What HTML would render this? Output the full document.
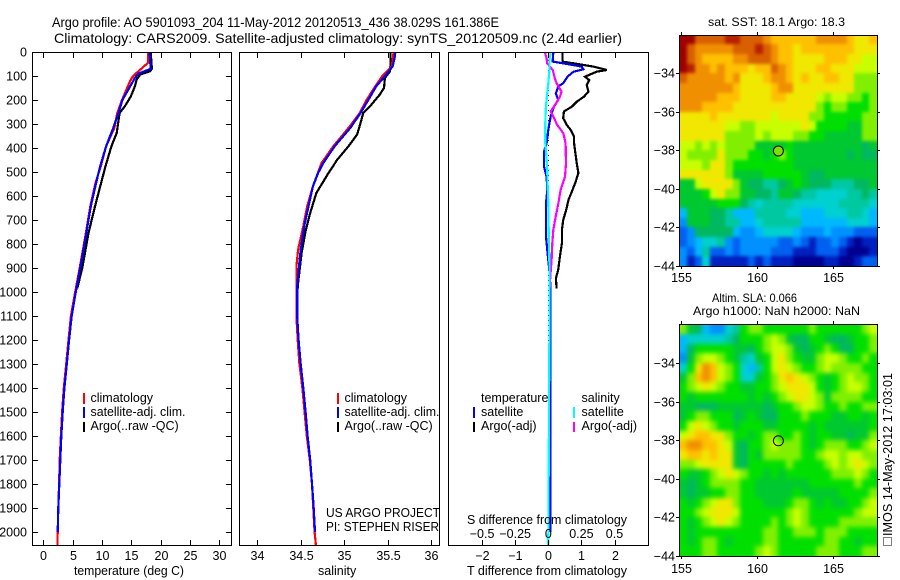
<!DOCTYPE html>
<html>
<head>
<meta charset="utf-8">
<style>
html,body{margin:0;padding:0;background:#fff;}
svg{display:block;}
text{font-family:"Liberation Sans",sans-serif;font-size:12.5px;fill:#000;}
.title{font-size:14px;}
.small{font-size:12px;}
</style>
</head>
<body>
<svg id="chart" xmlns="http://www.w3.org/2000/svg" width="900" height="580" viewBox="0 0 900 580">
<defs>
<filter id="sst-blur" filterUnits="userSpaceOnUse" x="0" y="0" width="900" height="580" color-interpolation-filters="sRGB"><feGaussianBlur stdDeviation="1.6"/></filter>
<filter id="sla-blur" filterUnits="userSpaceOnUse" x="0" y="0" width="900" height="580" color-interpolation-filters="sRGB"><feGaussianBlur stdDeviation="2.4"/></filter>
<clipPath id="sst-clip"><rect x="679" y="35" width="199" height="232"/></clipPath>
<clipPath id="sla-clip"><rect x="679" y="325" width="199" height="232"/></clipPath>
</defs>
<rect x="0" y="0" width="900" height="580" fill="#fff"/>
<text class="title" x="52" y="27" textLength="447" lengthAdjust="spacingAndGlyphs">Argo profile: AO 5901093_204 11-May-2012 20120513_436 38.029S 161.386E</text>
<text class="title" x="54" y="43" textLength="568" lengthAdjust="spacingAndGlyphs">Climatology: CARS2009. Satellite-adjusted climatology: synTS_20120509.nc (2.4d earlier)</text>
<g id="marks"></g>
<text x="74" y="575" textLength="110" lengthAdjust="spacingAndGlyphs">temperature (deg C)</text>
<text x="318" y="575">salinity</text>
<text x="467" y="575" textLength="160" lengthAdjust="spacingAndGlyphs">T difference from climatology</text>
<text x="467" y="524" textLength="160" lengthAdjust="spacingAndGlyphs">S difference from climatology</text>

<g>
<rect x="83" y="393" width="2" height="11" fill="#f00"/>
<rect x="83" y="407" width="2" height="11" fill="#00f"/>
<rect x="83" y="422" width="2" height="10" fill="#000"/>
<text x="90.5" y="402">climatology</text>
<text x="90.5" y="416" textLength="95" lengthAdjust="spacingAndGlyphs">satellite-adj. clim.</text>
<text x="90.5" y="430">Argo(..raw -QC)</text>
</g>
<g>
<rect x="337" y="393" width="2" height="11" fill="#f00"/>
<rect x="337" y="407" width="2" height="11" fill="#00f"/>
<rect x="337" y="422" width="2" height="10" fill="#000"/>
<text x="344.5" y="402">climatology</text>
<text x="344.5" y="416" textLength="95" lengthAdjust="spacingAndGlyphs">satellite-adj. clim.</text>
<text x="344.5" y="430">Argo(..raw -QC)</text>
</g>
<text x="326" y="517" textLength="114" lengthAdjust="spacingAndGlyphs">US ARGO PROJECT</text>
<text x="326" y="531" textLength="113" lengthAdjust="spacingAndGlyphs">PI: STEPHEN RISER</text>

<g>
<text x="481" y="402">temperature</text>
<text x="581.5" y="402">salinity</text>
<rect x="473" y="407" width="2" height="11" fill="#00f"/>
<rect x="473" y="422" width="2" height="10" fill="#000"/>
<rect x="573" y="407" width="2" height="11" fill="#0ff"/>
<rect x="573" y="422" width="2" height="10" fill="#f0f"/>
<text x="481" y="416">satellite</text>
<text x="481" y="430">Argo(-adj)</text>
<text x="581.5" y="416">satellite</text>
<text x="581.5" y="430">Argo(-adj)</text>
</g>

<text class="small" x="708" y="26" textLength="137" lengthAdjust="spacingAndGlyphs">sat. SST: 18.1  Argo: 18.3</text>
<text class="small" x="712" y="302" textLength="85" lengthAdjust="spacingAndGlyphs">Altim. SLA: 0.066</text>
<text class="small" x="693" y="315" textLength="167" lengthAdjust="spacingAndGlyphs">Argo h1000: NaN h2000: NaN</text>
<g transform="translate(892,546) rotate(-90)">
<rect x="0.5" y="-8.5" width="8" height="8" fill="none" stroke="#000" stroke-dasharray="1 1"/>
<text x="10" y="0" textLength="163" lengthAdjust="spacingAndGlyphs">IMOS 14-May-2012 17:03:01</text>
</g>
</svg>
<script>
// Profile panel axes
const depthTicks = [0,100,200,300,400,500,600,700,800,900,1000,1100,1200,1300,1400,1500,1600,1700,1800,1900,2000];
const tempTicks = [0,5,10,15,20,25,30];
const salTicks = [34,34.5,35,35.5,36];
const diffTTicks = [-2,-1,0,1,2];
const diffSTicks = [-0.5,-0.25,0,0.25,0.5];

// Temperature profiles
const tempClimDepth = [0,40,46,100,120,160,200,254,317,393,476,546,643,754,893,1004,1100,1200,1300,1400,1500,1600,1700,1800,1900,2000,2055];
const tempClimValue = [17.85,17.85,17.8,15.3,14.8,14.1,13.4,12.6,12.1,10.7,9.8,8.9,8.0,7.25,6.25,5.4,4.7,4.3,3.9,3.5,3.2,3.0,2.8,2.7,2.55,2.45,2.4];
const tempAdjDepth = [0,70,90,108,143,199,254,317,393,476,546,643,754,893,1004,1100,1200,1300,1400,1500,1600,1700,1800,1900,2000];
const tempAdjValue = [18.1,18.3,16.2,15.6,14.8,13.5,12.8,11.9,10.7,9.7,9.0,8.1,7.33,6.33,5.5,4.83,4.4,4.0,3.6,3.3,3.07,2.9,2.73,2.56,2.45];
const tempArgoDepth = [0,70,80,94,115,143,185,226,254,338,393,476,560,643,754,893,985];
const tempArgoValue = [18.3,18.5,18.2,16.5,15.9,15.6,14.9,13.9,13.0,12.5,11.6,10.6,9.7,8.8,7.7,6.7,5.8];

// Salinity profiles
const salClimDepth = [0,60,100,143,199,254,317,393,463,560,643,726,824,893,1100,1200,1300,1400,1500,1600,1700,1800,2000,2055];
const salClimValue = [35.57,35.55,35.44,35.36,35.26,35.18,35.05,34.875,34.74,34.64,34.575,34.53,34.47,34.45,34.45,34.465,34.485,34.52,34.545,34.57,34.605,34.63,34.66,34.675];
const salAdjDepth = [0,18,60,101,143,199,254,317,393,463,504,560,643,726,824,893,976,1100,1200,1300,1400,1500,1600,1700,1800,1900,2000];
const salAdjValue = [35.59,35.585,35.56,35.47,35.37,35.28,35.19,35.07,34.89,34.76,34.70,34.64,34.59,34.54,34.50,34.48,34.46,34.46,34.476,34.5,34.53,34.557,34.58,34.61,34.63,34.65,34.665];
const salArgoDepth = [0,50,80,108,150,178,226,254,282,344,393,449,504,588,671,740,837,962,985];
const salArgoValue = [35.535,35.535,35.53,35.47,35.46,35.41,35.3,35.22,35.2,35.15,35.05,34.92,34.82,34.68,34.61,34.56,34.51,34.47,34.465];

// Difference profiles (T in deg C, S in PSU)
const diffTArgoDepth = [3,40,47,61,75,82,103,117,137,165,186,207,228,248,276,304,325,353,381,422,464,505,547,582,616,658,700,742,797,853,908,943,985];
const diffTArgoValue = [0.43,0.43,0.76,1.36,1.77,1.46,1.11,1.24,1.16,1.21,1.08,0.86,0.71,0.47,0.45,0.56,0.68,0.78,0.78,0.82,0.86,0.91,0.81,0.71,0.61,0.54,0.45,0.41,0.41,0.35,0.30,0.23,0.25];
const diffTSatDepth = [3,40,47,61,72,82,103,130,144,172,200,228,269,325,381,415,478,519,575,630,714,769,839,936,1019,2000];
const diffTSatValue = [0.15,0.13,0.45,1.01,1.06,0.76,0.58,0.45,0.30,0.23,0.30,0.17,0.07,0,-0.05,-0.13,-0.13,-0.05,-0.03,-0.07,-0.07,-0.07,-0.02,0.05,0.07,0.07];
const diffSArgoDepth = [3,26,47,75,110,130,165,186,221,248,269,304,339,381,464,519,575,630,686,742,797,866,936,985];
const diffSArgoValue = [-0.025,-0.013,-0.008,0.033,0.05,0.063,0.1,0.088,0.05,0.018,0.038,0.068,0.114,0.131,0.134,0.126,0.093,0.076,0.056,0.038,0.03,0.025,0.015,0.01];
const diffSSatDepth = [3,33,75,130,172,228,297,381,464,547,630,742,880,1019,1500,2055];
const diffSSatValue = [0.018,0.008,0.008,0,-0.008,-0.018,-0.023,-0.023,-0.01,-0.005,0,0.003,0.008,0.01,0.005,0];

// Map axes
const lonTicks = [155,160,165];
const latTicks = [-34,-36,-38,-40,-42,-44];
const argoLon = 161.386;
const argoLat = -38.029;

// Colour levels (index = level value in the map grids)
const levelColors = ['#000090','#0020c0','#0060f0','#0090ff','#00b8ff','#00d0d0','#00c8a0','#00b860','#00c830','#00e000','#80f000','#c8ff00','#f0e800','#ffc000','#f09000','#d86000','#b82000','#a00000'];

// Satellite SST grid, colour levels, north to south
const sstLevels = [
[17,17,15,15,15,15,16,16,15,15,15,14,13,13,13,13,13,13,14,14,14,14,13,12,12,13],
[17,15,14,14,14,14,14,15,15,15,16,15,14,13,13,12,13,13,13,13,13,13,13,12,12,12],
[17,15,14,13,13,13,13,14,14,15,15,15,14,13,13,12,12,12,12,13,13,13,12,12,11,11],
[17,16,14,14,13,14,13,13,13,12,13,13,15,14,13,12,12,12,13,13,12,12,12,11,11,11],
[15,14,14,14,14,14,13,14,12,12,12,13,14,14,13,12,13,12,12,13,13,12,12,10,10,10],
[14,14,14,14,14,14,14,13,12,12,12,12,13,14,14,12,12,12,12,12,12,12,12,10,10,10],
[14,14,14,14,14,13,13,13,12,12,12,12,13,13,12,12,12,12,11,10,11,11,10,10,9,10],
[14,14,14,13,13,13,13,12,12,12,12,12,12,12,12,12,12,12,10,9,10,10,9,9,9,10],
[12,12,12,12,13,12,12,12,12,12,12,12,11,12,12,12,12,10,10,9,9,9,9,9,10,10],
[12,12,12,12,12,12,11,11,10,10,11,11,11,11,11,11,12,11,9,9,9,9,8,8,10,10],
[12,12,12,12,12,12,10,10,10,10,11,10,11,11,11,10,10,9,9,8,8,8,8,8,10,10],
[11,11,10,11,10,11,10,10,10,10,8,8,8,8,9,8,8,8,8,8,8,8,8,8,7,8],
[11,10,10,10,10,12,10,10,10,9,9,8,9,10,9,8,8,8,8,8,8,8,7,8,7,7],
[11,11,11,10,12,12,10,9,9,9,9,9,9,9,9,8,8,8,8,8,8,8,8,8,8,8],
[12,12,12,12,12,12,10,8,8,8,8,9,9,9,9,9,8,7,7,8,8,8,8,8,8,8],
[8,8,11,12,12,12,12,10,8,7,7,6,6,7,8,9,8,7,7,7,6,6,6,7,7,8],
[8,8,8,9,11,12,10,10,8,8,7,7,6,8,8,7,6,6,5,5,5,5,6,6,7,6],
[8,8,8,8,8,9,9,9,7,6,5,6,6,6,6,5,5,5,5,5,5,6,6,6,6,5],
[4,8,8,8,7,7,6,4,4,4,6,6,6,6,5,5,4,4,4,5,5,5,6,6,5,4],
[3,8,8,8,7,7,6,6,4,4,5,6,6,6,6,6,4,4,4,4,4,4,5,5,5,4],
[2,3,7,7,7,7,7,4,3,3,4,5,5,5,5,4,3,3,3,4,3,3,3,2,2,2],
[2,3,4,5,5,6,3,2,3,3,3,3,3,2,2,3,2,1,2,2,3,2,1,0,1,1],
[3,2,4,6,2,2,3,2,3,3,3,3,2,2,2,1,1,1,2,2,2,1,0,0,0,1],
[3,1,2,5,1,1,1,1,1,2,1,2,1,1,1,0,0,0,0,1,1,0,0,1,2,2]
];

// Altimetry SLA grid, colour levels, north to south
const slaLevels = [
[10,8,7,4,3,3,5,6,9,10,10,9,9,9,9,9,9,10,9,9,9,9,9,9,10,11],
[4,5,5,5,5,5,6,7,9,9,9,10,11,10,8,7,7,9,9,8,7,7,8,9,9,10],
[4,7,9,9,9,9,9,8,8,7,9,10,11,11,10,8,7,8,9,10,9,7,7,9,9,10],
[3,8,10,11,11,10,9,8,6,5,8,9,11,12,10,9,8,8,10,11,11,10,9,9,10,9],
[5,9,12,14,13,11,10,9,5,4,6,9,11,12,11,10,9,9,10,11,10,10,10,10,9,9],
[8,10,13,14,13,11,10,9,5,5,8,9,10,12,13,12,11,10,9,8,9,10,11,10,10,9],
[9,10,11,12,11,10,9,9,8,8,9,9,10,11,12,12,12,11,9,8,9,10,11,11,10,9],
[9,8,9,9,9,9,9,9,9,8,9,8,9,10,11,12,12,11,10,8,10,10,10,10,9,9],
[8,8,7,7,7,8,8,8,8,8,8,7,8,9,9,10,11,11,10,9,9,10,9,9,10,10],
[8,9,10,10,9,9,9,7,8,9,8,7,7,9,9,9,10,9,9,9,8,8,9,9,8,9],
[9,11,12,11,10,9,9,8,9,9,9,8,8,9,9,9,9,8,9,8,8,8,8,8,8,9],
[11,12,13,13,12,12,10,9,9,8,9,10,10,9,9,10,9,8,9,9,8,8,7,8,8,10],
[13,14,14,13,13,12,11,8,7,9,9,10,11,10,10,10,9,8,9,10,10,10,9,9,10,11],
[12,13,13,12,13,12,12,8,7,9,8,10,10,10,10,10,9,9,10,11,11,10,11,11,10,10],
[10,10,11,12,12,12,12,8,7,9,9,9,9,9,10,9,9,9,9,10,11,10,11,12,11,10],
[9,8,8,9,10,11,12,11,10,9,9,8,9,8,9,9,9,9,9,9,10,10,10,11,10,9],
[8,7,8,9,10,10,10,10,9,9,8,8,8,8,8,8,8,9,9,9,9,9,9,10,9,9],
[8,7,8,8,9,9,10,10,9,9,8,8,8,8,8,9,8,8,8,8,8,9,9,9,9,10],
[9,8,9,10,11,12,12,10,9,9,9,8,8,8,9,10,10,9,8,9,8,8,9,9,10,11],
[9,9,10,11,12,12,12,11,9,9,9,9,9,9,10,11,10,9,9,9,9,9,9,10,11,11],
[9,8,9,10,11,12,11,10,9,9,9,9,10,9,10,11,10,9,9,9,9,10,10,10,10,10],
[9,8,9,9,9,9,9,9,9,9,9,10,10,9,9,10,10,10,9,10,10,10,9,9,9,9],
[9,8,9,10,10,9,8,9,9,9,9,10,10,9,9,9,9,9,9,10,10,9,9,8,9,9],
[9,9,9,10,10,9,9,9,9,9,10,11,10,9,9,9,9,9,10,10,10,9,9,9,10,10]
];

const NS = 'http://www.w3.org/2000/svg';
const root = document.getElementById('marks');

// Axis functions
const yTop = 52, yBottom = 545, pxPerMetre = 0.24;
function depthY(d){ return yTop + d * pxPerMetre; }
function tempX(t){ return 43.3 + t * 5.87; }
function salX(s){ return 257.3 + (s - 34) * 86.8; }
function diffTX(t){ return 548.3 + t * 33.1; }
function diffSX(s){ return 548.3 + s * 132.4; }
function lonX(lon){ return 681.3 + (lon - 155) * 15.2; }
function latYTop(lat){ return 73.3 + (-34 - lat) * 19.27; }
function latYBottom(lat){ return 363 + (-34 - lat) * 19.3; }
function px(v){ return Math.round(v) + 0.5; }

function drawFrame(x, y, w, h, name){
  const el = document.createElementNS(NS, 'rect');
  el.setAttribute('x', x);
  el.setAttribute('y', y);
  el.setAttribute('width', w);
  el.setAttribute('height', h);
  el.setAttribute('fill', 'none');
  el.setAttribute('stroke', '#000');
  
  
  root.appendChild(el);
}
function drawTick(x1, y1, x2, y2, name){
  const el = document.createElementNS(NS, 'line');
  el.setAttribute('x1', x1);
  el.setAttribute('y1', y1);
  el.setAttribute('x2', x2);
  el.setAttribute('y2', y2);
  el.setAttribute('stroke', '#000');
  el.setAttribute('shape-rendering', 'crispEdges');
  
  
  root.appendChild(el);
}
function drawLabel(x, y, str, anchor, name){
  const el = document.createElementNS(NS, 'text');
  el.setAttribute('x', x);
  el.setAttribute('y', y);
  el.setAttribute('text-anchor', anchor);
  el.textContent = str;
  
  
  root.appendChild(el);
}
function drawProfile(depths, values, xFn, color, name){
  const el = document.createElementNS(NS, 'polyline');
  const pts = depths.map(function(d, i){ return xFn(values[i]).toFixed(1) + ',' + depthY(d).toFixed(1); });
  el.setAttribute('points', pts.join(' '));
  el.setAttribute('fill', 'none');
  el.setAttribute('stroke', color);
  el.setAttribute('stroke-width', '2.2');
  el.setAttribute('shape-rendering', 'crispEdges');
  
  
  root.appendChild(el);
}
function fmtMinus(v){ return String(v).replace('-', '\u2212'); }

function drawPanelXTicks(ticks, xFn, prefix, labelY){
  ticks.forEach(function(t){
    const x = px(xFn(t));
    drawTick(x, 53, x, 58, prefix + '-top-tick');
    drawTick(x, 545, x, 540, prefix + '-bottom-tick');
    if (labelY) drawLabel(x, labelY, fmtMinus(t), 'middle', prefix + '-tick-label');
  });
}

// Temperature panel
drawProfile(tempArgoDepth, tempArgoValue, tempX, '#000', 'temperature-argo-line');
drawProfile(tempClimDepth, tempClimValue, tempX, '#f00', 'temperature-climatology-line');
drawProfile(tempAdjDepth, tempAdjValue, tempX, '#00f', 'temperature-satellite-line');
drawFrame(32.5, 52.5, 199, 493, 'temperature-panel-frame');
drawPanelXTicks(tempTicks, tempX, 'temperature', 560);
depthTicks.forEach(function(d){
  const y = px(depthY(d));
  if (d > 0) {
    drawTick(33, y, 38, y, 'depth-left-tick');
    drawTick(231, y, 226, y, 'depth-right-tick');
  }
  drawLabel(27, y + 4, String(d), 'end', 'depth-tick-label');
});

// Salinity panel
drawProfile(salArgoDepth, salArgoValue, salX, '#000', 'salinity-argo-line');
drawProfile(salClimDepth, salClimValue, salX, '#f00', 'salinity-climatology-line');
drawProfile(salAdjDepth, salAdjValue, salX, '#00f', 'salinity-satellite-line');
drawFrame(239.5, 52.5, 200, 493, 'salinity-panel-frame');
drawPanelXTicks(salTicks, salX, 'salinity', 560);

// Difference panel
(function(){
  const el = document.createElementNS(NS, 'line');
  el.setAttribute('x1', px(diffTX(0)));
  el.setAttribute('y1', 60);
  el.setAttribute('x2', px(diffTX(0)));
  el.setAttribute('y2', 545);
  el.setAttribute('stroke', '#000');
  el.setAttribute('stroke-dasharray', '1 4');
  
  
  root.appendChild(el);
})();
drawProfile(diffTArgoDepth, diffTArgoValue, diffTX, '#000', 't-difference-argo-line');
drawProfile(diffTSatDepth, diffTSatValue, diffTX, '#00f', 't-difference-satellite-line');
drawProfile(diffSArgoDepth, diffSArgoValue, diffSX, '#f0f', 's-difference-argo-line');
drawProfile(diffSSatDepth, diffSSatValue, diffSX, '#0ff', 's-difference-satellite-line');
drawFrame(448.5, 52.5, 200, 493, 'difference-panel-frame');
drawPanelXTicks(diffTTicks, diffTX, 't-difference', 560);
diffSTicks.forEach(function(s){
  drawLabel(diffSX(s), 538, fmtMinus(s), 'middle', 's-difference-tick-label');
});

// Maps
function drawMap(levels, yFn, prefix, labelY){
  const clipGroup = document.createElementNS(NS, 'g');
  clipGroup.setAttribute('clip-path', 'url(#' + prefix + '-clip)');
  
  
  root.appendChild(clipGroup);
  const cellGroup = document.createElementNS(NS, 'g');
  cellGroup.setAttribute('filter', 'url(#' + prefix + '-blur)');
  
  
  clipGroup.appendChild(cellGroup);
  const lastRow = levels.length - 1;
  levels.forEach(function(row, j){
    const lastCol = row.length - 1;
    row.forEach(function(level, i){
      const lonA = 154.87 + i * 0.5;
      const latA = -32 - j * 0.5;
      let x = Math.round(lonX(lonA));
      let y = Math.round(yFn(latA));
      let w = Math.round(lonX(lonA + 0.5)) - x;
      let h = Math.round(yFn(latA - 0.5)) - y;
      // border cells bleed outward so the soft edge stays solid inside the clip
      if (i === 0) { x -= 12; w += 12; }
      if (i === lastCol) { w += 12; }
      if (j === 0) { y -= 12; h += 12; }
      if (j === lastRow) { h += 12; }
      const el = document.createElementNS(NS, 'rect');
      el.setAttribute('x', x);
      el.setAttribute('y', y);
      el.setAttribute('width', w);
      el.setAttribute('height', h);
      el.setAttribute('fill', levelColors[level]);
      el.setAttribute('shape-rendering', 'crispEdges');
      
      
      cellGroup.appendChild(el);
    });
  });
  const top = Math.round(yFn(-32));
  const bottom = Math.round(yFn(-44));
  const left = Math.round(lonX(154.87));
  const right = Math.round(lonX(167.87));
  drawFrame(left + 0.5, top + 0.5, right - left, bottom - top, prefix + '-map-frame');
  lonTicks.forEach(function(lon){
    const x = px(lonX(lon));
    drawTick(x, top - 3, x, top, prefix + '-top-tick');
    drawTick(x, bottom, x, bottom + 3, prefix + '-bottom-tick');
    drawLabel(x, labelY, String(lon), 'middle', prefix + '-longitude-label');
  });
  latTicks.forEach(function(lat){
    const y = px(yFn(lat));
    drawTick(left - 3, y, left, y, prefix + '-left-tick');
    drawTick(right, y, right + 3, y, prefix + '-right-tick');
    drawLabel(left - 4, y + 4, fmtMinus(lat), 'end', prefix + '-latitude-label');
  });
}
function drawMarker(yFn, fill, name){
  const el = document.createElementNS(NS, 'circle');
  el.setAttribute('cx', lonX(argoLon));
  el.setAttribute('cy', yFn(argoLat));
  el.setAttribute('r', 5);
  el.setAttribute('fill', fill);
  el.setAttribute('stroke', '#000');
  
  
  root.appendChild(el);
}
drawMap(sstLevels, latYTop, 'sst', 282);
drawMarker(latYTop, '#80e000', 'sst-argo-marker');
drawMap(slaLevels, latYBottom, 'sla', 573);
drawMarker(latYBottom, 'none', 'sla-argo-marker');
</script>
</body>
</html>
